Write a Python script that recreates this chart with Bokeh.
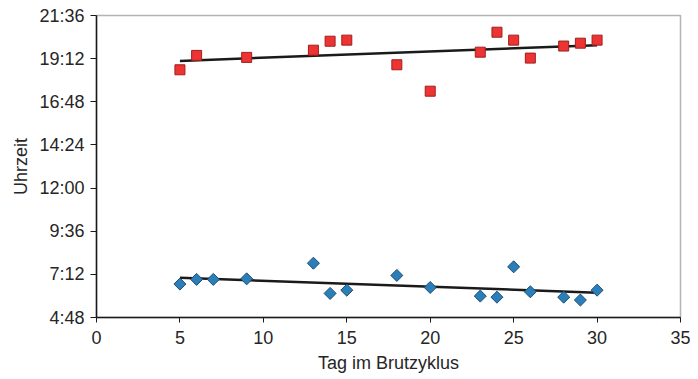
import numpy as np
from bokeh.plotting import figure
from bokeh.models import Range1d, FixedTicker
from bokeh.embed import file_html
from bokeh.resources import INLINE

# Data (day of breeding cycle, time of day in hours)
days_evening = [5, 6, 9, 13, 14, 15, 18, 20, 23, 24, 25, 26, 28, 29, 30]
evening_hours = [18.58, 19.38, 19.27, 19.67, 20.17, 20.23, 18.86, 17.39,
                 19.56, 20.67, 20.23, 19.23, 19.90, 20.06, 20.23]

days_morning = [5, 6, 7, 9, 13, 14, 15, 18, 20, 23, 24, 25, 26, 28, 29, 30]
morning_hours = [6.66, 6.92, 6.92, 6.95, 7.82, 6.14, 6.32, 7.14, 6.47,
                 5.99, 5.93, 7.62, 6.23, 5.93, 5.77, 6.32]

y_ticks = [4.8, 7.2, 9.6, 12.0, 14.4, 16.8, 19.2, 21.6]
y_tick_labels = ["4:48", "7:12", "9:36", "12:00", "14:24", "16:48", "19:12", "21:36"]
x_ticks = [0, 5, 10, 15, 20, 25, 30, 35]

FONT = "Liberation Sans"

p = figure(width=690, height=379, output_backend="svg", toolbar_location=None,
           x_range=Range1d(0, 35), y_range=Range1d(4.8, 21.6),
           min_border_left=96, min_border_right=10, min_border_top=15,
           min_border_bottom=62)
p.xgrid.visible = False
p.ygrid.visible = False
p.outline_line_color = "#b3b3b3"
p.outline_line_width = 1.5
p.background_fill_color = "white"
p.border_fill_color = "white"

for ax in (p.xaxis[0], p.yaxis[0]):
    ax.axis_line_color = "#1a1a1a"
    ax.axis_line_width = 1.5
    ax.major_tick_line_color = "#1a1a1a"
    ax.major_tick_in = 0
    ax.minor_tick_line_color = None
    ax.major_label_text_font = FONT
    ax.major_label_text_font_size = "18px"
    ax.major_label_text_color = "#262626"
    ax.axis_label_text_font = FONT
    ax.axis_label_text_font_size = "18px"
    ax.axis_label_text_font_style = "normal"
    ax.axis_label_text_color = "#262626"

p.xaxis.ticker = FixedTicker(ticks=x_ticks)
p.yaxis.ticker = FixedTicker(ticks=y_ticks)
p.yaxis.major_label_overrides = {t: l for t, l in zip(y_ticks, y_tick_labels)}
p.xaxis.axis_label = "Tag im Brutzyklus"
p.yaxis.axis_label = "Uhrzeit"
p.yaxis.major_tick_out = 6
p.yaxis.major_label_standoff = 6
p.yaxis.axis_label_standoff = 5
p.xaxis.major_tick_out = 5
p.xaxis.major_label_standoff = 8
p.xaxis.axis_label_standoff = 6

# trend lines (least squares fits)
for xs, ys in ((days_evening, evening_hours), (days_morning, morning_hours)):
    k, d = np.polyfit(xs, ys, 1)
    x0, x1 = min(xs), max(xs)
    p.line([x0, x1], [k * x0 + d, k * x1 + d], line_color="#1a1a1a", line_width=2.5)

p.scatter(x=days_evening, y=evening_hours, marker="square", size=10,
          fill_color="#ee3333", line_color="#9e1f1f", line_width=1)
p.scatter(x=days_morning, y=morning_hours, marker="square", size=8.5, angle=np.pi / 4,
          fill_color="#2a7fba", line_color="#1e4d70", line_width=1)

open("out.html", "w").write(file_html(p, INLINE))
